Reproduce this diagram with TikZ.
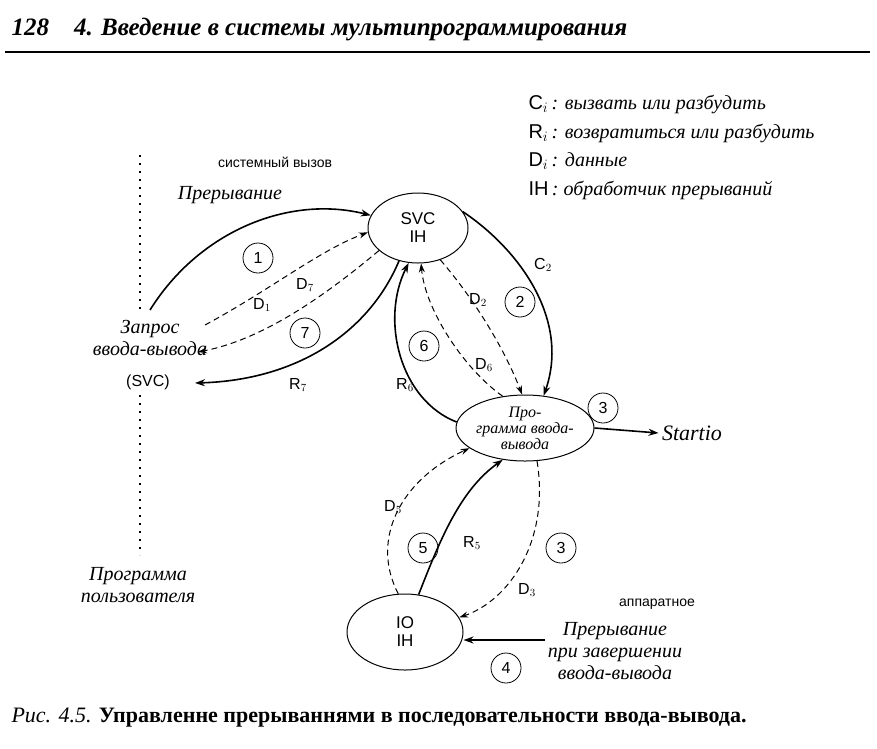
\documentclass[tikz,border=0pt]{standalone}
\usepackage{fontspec}
\setmainfont{Liberation Serif}
\setsansfont{Liberation Sans}
\usetikzlibrary{arrows.meta,shapes.geometric}
\begin{document}
\begin{tikzpicture}[x=1pt,y=-1pt,
  el/.style={draw,ellipse,line width=1pt,inner sep=0pt},
  num/.style={draw,circle,line width=0.8pt,minimum size=30pt,inner sep=0pt,font=\sffamily\fontsize{16}{16}\selectfont},
  lab/.style={font=\sffamily\fontsize{16}{16}\selectfont},
  hw/.style={font=\itshape\fontsize{20}{22}\selectfont,align=center},
  so/.style={line width=1.6pt,-{Stealth[length=10pt,width=7pt]}},
  da/.style={line width=1pt,dash pattern=on 6pt off 4pt,-{Stealth[length=9pt,width=6pt]}}]
\useasboundingbox (0,0) rectangle (877,748);
\node[anchor=west,font=\bfseries\itshape\fontsize{25}{26}\selectfont] (hdr) at (8,30) {128\quad 4. Введение в системы мультипрограммирования};
\draw[line width=1.5pt] (5,52) coordinate (r1) -- (870,52) coordinate (r2);
% legend
\node[anchor=west,hw] (l1) at (525,104) {\textup{\sffamily C$_i$}\,: вызвать или разбудить};
\node[anchor=west,hw] (l2) at (525,133) {\textup{\sffamily R$_i$}\,: возвратиться или разбудить};
\node[anchor=west,hw] (l3) at (525,161) {\textup{\sffamily D$_i$}\,: данные};
\node[anchor=west,hw] (l4) at (525,190) {\textup{\sffamily IH}\,: обработчик прерываний};
\node[font=\sffamily\fontsize{14}{14}\selectfont] (sv) at (275,162) {системный вызов};
\node[font=\sffamily\fontsize{14}{14}\selectfont] (ap) at (657,604) {аппаратное};
% dotted line
\draw[line width=2pt,dash pattern=on 2pt off 6pt] (140,155) coordinate (d1) -- (140,310) coordinate (d2);
\draw[line width=2pt,dash pattern=on 2pt off 6pt] (140,395) coordinate (d3) -- (140,555) coordinate (d4);
% ellipses
\node[el,minimum width=100pt,minimum height=70pt,align=center,font=\sffamily\fontsize{17}{18}\selectfont] (svc) at (418,228) {SVC\\IH};
\node[el,minimum width=110pt,minimum height=66pt,align=center,font=\itshape\fontsize{16}{16}\selectfont] (prog) at (525,428) {Про-\\грамма ввода-\\вывода};
\node[el,minimum width=116pt,minimum height=76pt,align=center,font=\sffamily\fontsize{17}{18}\selectfont] (io) at (405,632) {IO\\IH};
% texts
\node[hw] (pr1) at (230,195) {Прерывание};
\node[hw] (zap) at (150,338) {Запрос\\ввода-вывода};
\node[font=\sffamily\fontsize{16}{16}\selectfont] (svcl) at (148,382) {(SVC)};
\node[hw] (pu) at (138,585) {Программа\\пользователя};
\node[font=\itshape\fontsize{22}{22}\selectfont] (st) at (692,433) {Startio};
\node[hw] (pr2) at (615,651) {Прерывание\\при завершении\\ввода-вывода};
% numbers
\node[num] (n1) at (258,258) {1};
\node[num] (n7) at (305,333) {7};
\node[num] (n2) at (520,302) {2};
\node[num] (n6) at (424,346) {6};
\node[num] (n3a) at (603,408) {3};
\node[num] (n5) at (423,548) {5};
\node[num] (n3b) at (561,548) {3};
\node[num] (n4) at (506,668) {4};
% labels
\node[lab] (lD1) at (262,305) {D$_1$};
\node[lab] (lD7) at (305,285) {D$_7$};
\node[lab] (lD2) at (478,300) {D$_2$};
\node[lab] (lC2) at (543,265) {C$_2$};
\node[lab] (lD6) at (484,365) {D$_6$};
\node[lab] (lR6) at (405,385) {R$_6$};
\node[lab] (lR7) at (298,385) {R$_7$};
\node[lab] (lD5) at (393,507) {D$_5$};
\node[lab] (lR5) at (472,543) {R$_5$};
\node[lab] (lD3) at (527,590) {D$_3$};
% connectors
\coordinate (a0) at (150,310);
\draw[so] (a0) .. controls (200,230) and (290,195) .. (svc.165);
\coordinate (zr) at (205,325);
\draw[da] (zr) .. controls (270,290) and (320,250) .. (svc.185);
\coordinate (zr2) at (198,352);
\draw[da] (svc.210) .. controls (320,300) and (260,340) .. (zr2);
\coordinate (zr3) at (195,383);
\draw[so] (svc.240) .. controls (370,330) and (300,380) .. (zr3);
\draw[so] (svc.20) .. controls (520,250) and (570,320) .. (prog.60);
\draw[da] (svc.305) .. controls (475,300) and (505,350) .. (prog.95);
\draw[da] (prog.125) .. controls (465,370) and (425,310) .. (svc.275);
\draw[so] (prog.175) .. controls (400,400) and (380,320) .. (svc.255);
\draw[so] (prog.east) -- (st.west);
\draw[da] (io.100) .. controls (370,540) and (400,480) .. (prog.200);
\draw[so] (io.70) .. controls (440,540) and (460,490) .. (prog.235);
\draw[da] (prog.290) .. controls (550,540) and (510,600) .. (io.15);
\coordinate (ia) at (545,640);
\draw[so] (ia) -- (io.east |- ia);
% caption
\node[anchor=west,font=\fontsize{22}{22}\selectfont] (cap) at (8,718) {\textit{Рис. 4.5.} \textbf{Управленне прерываннями в последовательности ввода-вывода.}};
\end{tikzpicture}
\end{document}
